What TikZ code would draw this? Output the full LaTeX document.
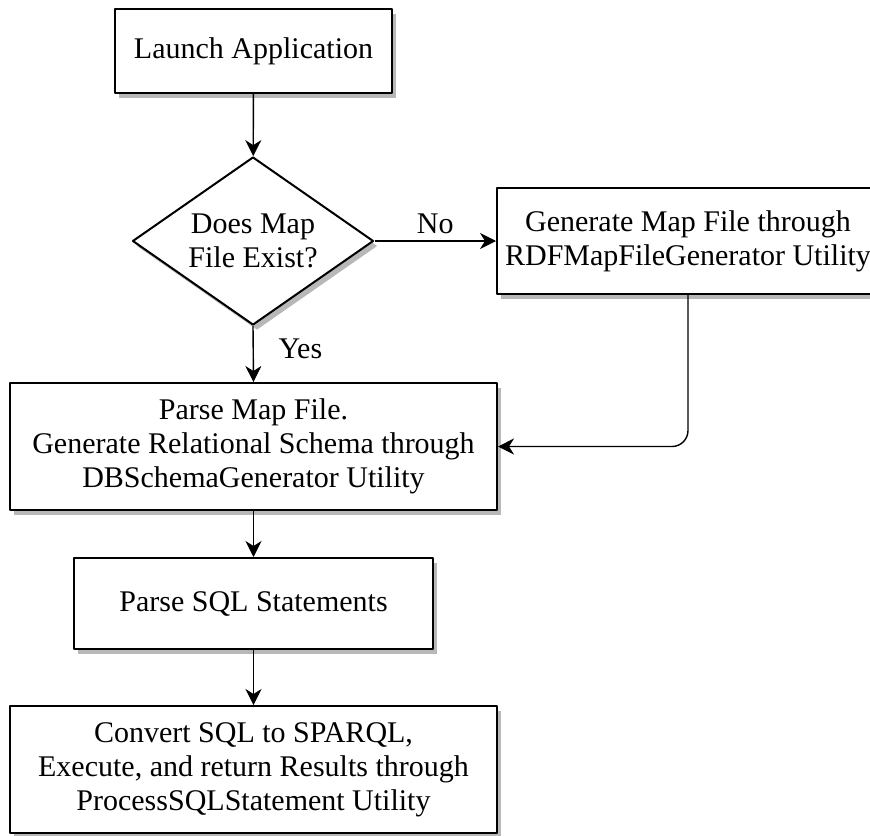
\documentclass[tikz,border=0pt]{standalone}
\usepackage{fontspec}
\setmainfont{Liberation Serif}
\usetikzlibrary{shapes.geometric,shadows,arrows.meta}
\begin{document}
\begin{tikzpicture}[x=0.5pt,y=-0.5pt,font=\fontsize{15}{17}\selectfont,line join=round,>={Stealth[length=8pt,width=8pt,inset=2.5pt]},
box/.style={draw,line width=1pt,fill=white,align=center,drop shadow={shadow xshift=2pt,shadow yshift=-2.5pt,fill=black!28,opacity=1}},
decision/.style={box,diamond,aspect=1.43,inner sep=0pt},
link/.style={->,line width=0.7pt}]
\useasboundingbox (0,0) rectangle (870,835);
\node[box,minimum width=138.5pt,minimum height=42pt] (launch) at (253.5,51) {Launch Application};
\node[decision,minimum width=120.5pt,minimum height=84pt] (exist) at (253,241) {Does Map\\File Exist?};
\node[box,minimum width=191pt,minimum height=53pt] (genmap) at (688,241) {Generate Map File through\\RDFMapFileGenerator Utility};
\node[box,minimum width=243.5pt,minimum height=63.5pt] (parsemap) at (253.5,446.5) {Parse Map File.\\Generate Relational Schema through\\DBSchemaGenerator Utility};
\node[box,minimum width=179.5pt,minimum height=45.5pt] (parsesql) at (253.5,603.5) {Parse SQL Statements};
\node[box,minimum width=243.5pt,minimum height=63.5pt] (convert) at (253.5,769.5) {Convert SQL to SPARQL,\\Execute, and return Results through\\ProcessSQLStatement Utility};
\draw[link] (launch) -- (exist);
\draw[link] (exist.east) -- node[above] {No} (genmap.west);
\draw[link] (exist.south) -- node[pos=0.4,right=9pt] {Yes} (parsemap.north);
\draw[link,rounded corners=8pt] (genmap.south) |- (parsemap.east);
\draw[link] (parsemap) -- (parsesql);
\draw[link] (parsesql) -- (convert);
\end{tikzpicture}
\end{document}
